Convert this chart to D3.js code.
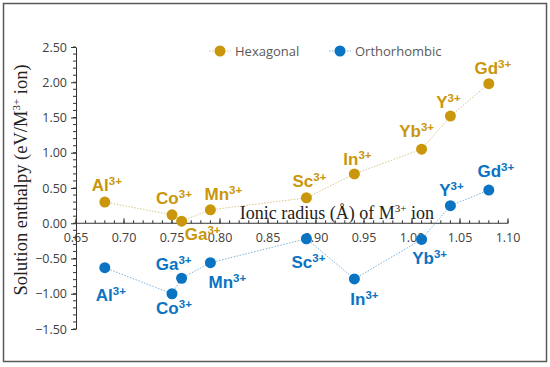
<!DOCTYPE html>
<html>
<head>
<meta charset="utf-8">
<script src="https://cdn.jsdelivr.net/npm/d3@7"></script>
<style>
  body { margin: 0; background: #fff; }
  svg { display: block; }
</style>
</head>
<body>
<svg id="chart" width="550" height="367"></svg>
<script>
// ions and ionic radius (A)
var ions = ['Al', 'Co', 'Ga', 'Mn', 'Sc', 'In', 'Yb', 'Y', 'Gd'];
var radius = [0.68, 0.75, 0.76, 0.79, 0.89, 0.94, 1.01, 1.04, 1.08];

// solution enthalpy (eV / M3+ ion)
var hexagonal = [0.30, 0.12, 0.03, 0.19, 0.36, 0.70, 1.05, 1.52, 1.98];
var orthorhombic = [-0.63, -1.00, -0.78, -0.56, -0.22, -0.79, -0.23, 0.25, 0.47];

var xTicks = [0.65, 0.70, 0.75, 0.80, 0.85, 0.90, 0.95, 1.00, 1.05, 1.10];
var yTicks = [-1.5, -1.0, -0.5, 0.0, 0.5, 1.0, 1.5, 2.0, 2.5];

// label offsets from the point (px), layout only
var hexLabelOffset = [[2, -11], [2, -11], [21, 19], [13, -10], [3, -11], [3, -9], [-5, -12], [-2, -8], [4, -10]];
var orthoLabelOffset = [[6, 33], [2, 20], [-8, -8], [17, 25], [2, 29], [10, 26], [8, 25], [1, -10], [7, -13]];

var HEX_COLOR = '#C9960C';
var HEX_LINE = '#D9C68E';
var ORTHO_COLOR = '#0A73C2';
var ORTHO_LINE = '#7DB3DC';
var AXIS_COLOR = '#333';

var svg = d3.select('#chart');

// outer frame
svg.append('rect')
  .attr('x', 3.5).attr('y', 3.5)
  .attr('width', 543).attr('height', 358)
  .attr('fill', 'none')
  .attr('stroke', '#595959')
  .attr('stroke-width', 1.5);

var x = d3.scaleLinear().domain([0.65, 1.10]).range([76, 508]);
var y = d3.scaleLinear().domain([-1.5, 2.5]).range([329, 47]);

// y axis, all ticks to the left
var yAxis = d3.axisLeft(y)
  .tickValues(yTicks)
  .tickFormat(d3.format('.2f'))
  .tickSize(5)
  .tickSizeOuter(0);

var yMinor = d3.range(-15, 26).map(function(d) { return d / 10; });

var gy = svg.append('g').attr('transform', 'translate(' + x(0.65) + ',0)');
gy.selectAll('.minor')
  .data(yMinor)
  .enter()
  .append('line')
    .attr('class', 'minor')
    .attr('x1', -3).attr('x2', 0)
    .attr('y1', function(d) { return y(d); })
    .attr('y2', function(d) { return y(d); })
    .attr('stroke', AXIS_COLOR);
gy.call(yAxis);
gy.selectAll('.domain, .tick line').attr('stroke', AXIS_COLOR);
gy.selectAll('text')
  .attr('font-family', 'Open Sans, Liberation Sans, sans-serif')
  .attr('font-size', 12.5)
  .attr('fill', '#404040')
  .attr('x', -9);

// x axis at y = 0, ticks pointing up, labels below
var gx = svg.append('g').attr('transform', 'translate(0,' + y(0) + ')');
var xMinor = d3.range(65, 111).map(function(d) { return d / 100; });
gx.selectAll('.minor')
  .data(xMinor)
  .enter()
  .append('line')
    .attr('class', 'minor')
    .attr('x1', function(d) { return x(d); })
    .attr('x2', function(d) { return x(d); })
    .attr('y1', -3).attr('y2', 0)
    .attr('stroke', AXIS_COLOR);
gx.append('line')
  .attr('x1', x(0.65)).attr('x2', x(1.10))
  .attr('stroke', AXIS_COLOR);
gx.selectAll('.major')
  .data(xTicks)
  .enter()
  .append('line')
    .attr('class', 'major')
    .attr('x1', function(d) { return x(d); })
    .attr('x2', function(d) { return x(d); })
    .attr('y1', -5).attr('y2', 0)
    .attr('stroke', AXIS_COLOR);
gx.selectAll('.xlabel')
  .data(xTicks)
  .enter()
  .append('text')
    .attr('class', 'xlabel')
    .attr('x', function(d) { return x(d); })
    .attr('y', 19)
    .attr('text-anchor', 'middle')
    .attr('font-family', 'Open Sans, Liberation Sans, sans-serif')
    .attr('font-size', 12.5)
    .attr('fill', '#404040')
    .text(function(d) { return d3.format('.2f')(d); });

// axis titles
var xTitle = svg.append('text')
  .attr('x', 434).attr('y', 219)
  .attr('text-anchor', 'end')
  .attr('font-family', 'Liberation Serif, DejaVu Serif, serif')
  .attr('font-size', 18)
  .attr('fill', '#222');
xTitle.append('tspan').text('Ionic radius (\u00C5) of  M');
xTitle.append('tspan').attr('font-size', 11).attr('dy', -7).text('3+');
xTitle.append('tspan').attr('dy', 7).text(' ion');

var yTitle = svg.append('text')
  .attr('transform', 'translate(27,' + 180 + ') rotate(-90)')
  .attr('text-anchor', 'middle')
  .attr('font-family', 'Liberation Serif, DejaVu Serif, serif')
  .attr('font-size', 18.5)
  .attr('fill', '#222');
yTitle.append('tspan').text('Solution enthalpy (eV/M');
yTitle.append('tspan').attr('font-size', 11).attr('dy', -7).text('3+');
yTitle.append('tspan').attr('dy', 7).text(' ion)');

// series
var series = [
  { name: 'Hexagonal', values: hexagonal, color: HEX_COLOR, line: HEX_LINE, offset: hexLabelOffset },
  { name: 'Orthorhombic', values: orthorhombic, color: ORTHO_COLOR, line: ORTHO_LINE, offset: orthoLabelOffset }
];

var line = d3.line()
  .x(function(d) { return x(d[0]); })
  .y(function(d) { return y(d[1]); });

series.forEach(function(s) {
  var pts = radius.map(function(r, i) { return [r, s.values[i]]; });

  svg.append('path')
    .datum(pts)
    .attr('d', line)
    .attr('fill', 'none')
    .attr('stroke', s.line)
    .attr('stroke-width', 1)
    .attr('stroke-dasharray', '1.5,1.5');

  svg.selectAll('.pt-' + s.name)
    .data(pts)
    .enter()
    .append('circle')
      .attr('cx', function(d) { return x(d[0]); })
      .attr('cy', function(d) { return y(d[1]); })
      .attr('r', 5.5)
      .attr('fill', s.color);

  var labels = svg.selectAll('.lab-' + s.name)
    .data(pts)
    .enter()
    .append('text')
      .attr('x', function(d, i) { return x(d[0]) + s.offset[i][0]; })
      .attr('y', function(d, i) { return y(d[1]) + s.offset[i][1]; })
      .attr('text-anchor', 'middle')
      .attr('font-family', 'Liberation Sans, Arial, sans-serif')
      .attr('font-weight', 'bold')
      .attr('font-size', 17)
      .attr('fill', s.color);
  labels.append('tspan').text(function(d, i) { return ions[i]; });
  labels.append('tspan')
    .attr('font-size', 11.5)
    .attr('dy', -6)
    .text('3+');
});

// legend
var legendX = [220, 340];
series.forEach(function(s, i) {
  var g = svg.append('g').attr('transform', 'translate(' + legendX[i] + ',51)');
  g.append('line')
    .attr('x1', -11).attr('x2', 11)
    .attr('stroke', s.line)
    .attr('stroke-dasharray', '1.5,1.5');
  g.append('circle').attr('r', 5.5).attr('fill', s.color);
  g.append('text')
    .attr('x', 15).attr('y', 5)
    .attr('font-family', 'Open Sans, Liberation Sans, sans-serif')
    .attr('font-size', 13)
    .attr('fill', '#595959')
    .text(s.name);
});
</script>
</body>
</html>
